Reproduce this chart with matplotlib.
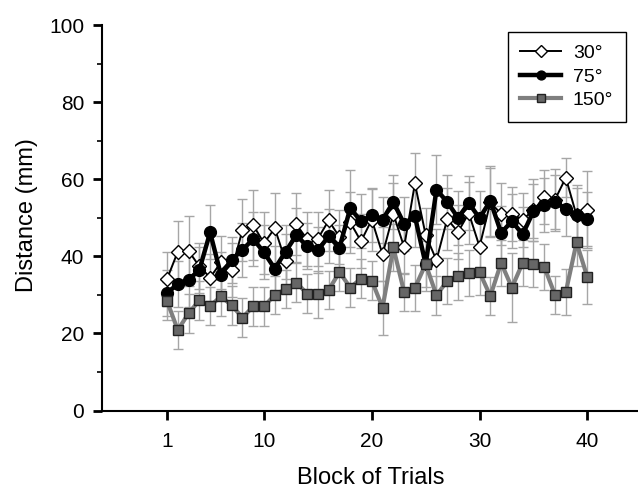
import matplotlib

matplotlib.use("Agg")
import matplotlib.pyplot as plt

plt.rcParams.update({"font.size": 14, "font.family": ["Liberation Sans", "DejaVu Sans"]})

blocks = list(range(1, 41))

dist_30 = [34.1, 41.2, 41.4, 37.4, 34.5, 38.4, 36.5, 46.8, 48.1, 43.4,
           47.3, 38.7, 48.3, 44.4, 44.6, 49.3, 45.0, 48.8, 43.9, 49.5,
           40.5, 51.0, 42.4, 58.9, 45.5, 39.0, 49.7, 46.3, 51.2, 42.5,
           54.0, 51.0, 51.0, 49.5, 52.0, 55.3, 54.7, 60.4, 50.6, 52.1]
dist_75 = [30.5, 32.8, 33.9, 36.5, 46.2, 35.2, 39.1, 41.7, 44.5, 41.0,
           36.8, 41.2, 45.5, 42.6, 41.6, 45.2, 42.2, 52.5, 49.1, 50.6,
           49.5, 54.1, 48.4, 50.4, 37.9, 57.3, 54.1, 50.0, 53.8, 49.9,
           54.4, 46.1, 49.1, 45.7, 51.7, 53.2, 54.0, 52.4, 50.6, 49.7]
dist_150 = [28.4, 20.9, 25.2, 28.6, 27.1, 29.6, 27.3, 24.1, 27.0, 27.0,
            30.0, 31.5, 33.2, 30.3, 30.1, 31.3, 35.9, 31.9, 34.2, 33.7,
            26.7, 42.3, 30.7, 31.8, 38.0, 29.9, 33.6, 34.8, 35.6, 35.9,
            29.7, 38.3, 31.9, 38.3, 38.0, 37.3, 30.0, 30.7, 43.6, 34.6]

err_30 = [7, 8, 9, 6, 6, 7, 7, 8, 9, 8, 9, 7, 8, 7, 7, 8, 7, 8, 7, 8,
          7, 8, 7, 8, 7, 8, 8, 7, 8, 7, 9, 8, 7, 7, 8, 7, 8, 5, 8, 10]
err_75 = [6, 6, 7, 6, 7, 6, 6, 7, 7, 7, 6, 7, 7, 6, 6, 7, 6, 10, 7, 7,
          6, 7, 7, 8, 7, 9, 7, 7, 7, 7, 9, 7, 7, 7, 7, 7, 7, 7, 7, 7]
err_150 = [5, 5, 5, 5, 5, 5, 5, 5, 5, 5, 5, 5, 5, 5, 6, 5, 5, 5, 5, 5,
           7, 6, 5, 6, 6, 5, 6, 6, 6, 6, 5, 6, 9, 6, 6, 6, 5, 6, 6, 7]

labels = ["30°", "75°", "150°"]
xtick_values = [1, 10, 20, 30, 40]


def main():
    fig = plt.figure(figsize=(6.38, 4.9), dpi=100)
    ax = fig.add_axes([0.1594, 0.1622, 0.8406, 0.7867])

    # error bars first, light grey, under every line
    for y, e in [(dist_30, err_30), (dist_75, err_75), (dist_150, err_150)]:
        ax.errorbar(blocks, y, yerr=e, fmt="none", ecolor="#a6a6a6",
                    elinewidth=1, capsize=3.5, capthick=1, zorder=1)

    ax.plot(blocks, dist_30, color="black", lw=1.4, marker="D", ms=7.5,
            mfc="white", mec="black", mew=1, label=labels[0], zorder=3)
    ax.plot(blocks, dist_75, color="black", lw=3.2, marker="o", ms=8.5,
            mfc="black", mec="black", label=labels[1], zorder=4)
    ax.plot(blocks, dist_150, color="#7f7f7f", lw=3, marker="s", ms=7,
            mfc="#666666", mec="#222222", mew=1, label=labels[2], zorder=5)

    ax.set_xlim(-5.06, 44.7)
    ax.set_ylim(0, 100)
    ax.set_xticks(xtick_values)
    ax.set_yticks(range(0, 101, 20))
    ax.set_yticks(range(10, 100, 20), minor=True)

    for side in ["top", "right"]:
        ax.spines[side].set_visible(False)
    for side in ["left", "bottom"]:
        ax.spines[side].set_linewidth(1.5)

    ax.tick_params(axis="both", which="major", direction="out", length=6.5,
                   width=2, labelsize=15)
    ax.tick_params(axis="x", which="major", pad=9)
    ax.tick_params(axis="y", which="major", pad=6)
    ax.tick_params(axis="y", which="minor", direction="out", length=3.5,
                   width=1.2)

    ax.set_xlabel("Block of Trials", fontsize=17)
    ax.set_ylabel("Distance (mm)", fontsize=17)
    ax.xaxis.set_label_coords(0.502, -0.175)
    ax.xaxis.label.set_va("center")
    ax.yaxis.set_label_coords(-0.139, 0.506)
    ax.yaxis.label.set_va("center")

    leg = ax.legend(loc="upper right", bbox_to_anchor=(0.981, 0.935),
                    bbox_transform=fig.transFigure, borderaxespad=0,
                    fontsize=14, fancybox=False, framealpha=1,
                    edgecolor="black", handlelength=2.1, handletextpad=0.6,
                    labelspacing=0.3, borderpad=0.65, markerscale=0.75)
    leg.get_frame().set_linewidth(1)

    fig.savefig("out.png", dpi=100)


if __name__ == "__main__":
    main()
